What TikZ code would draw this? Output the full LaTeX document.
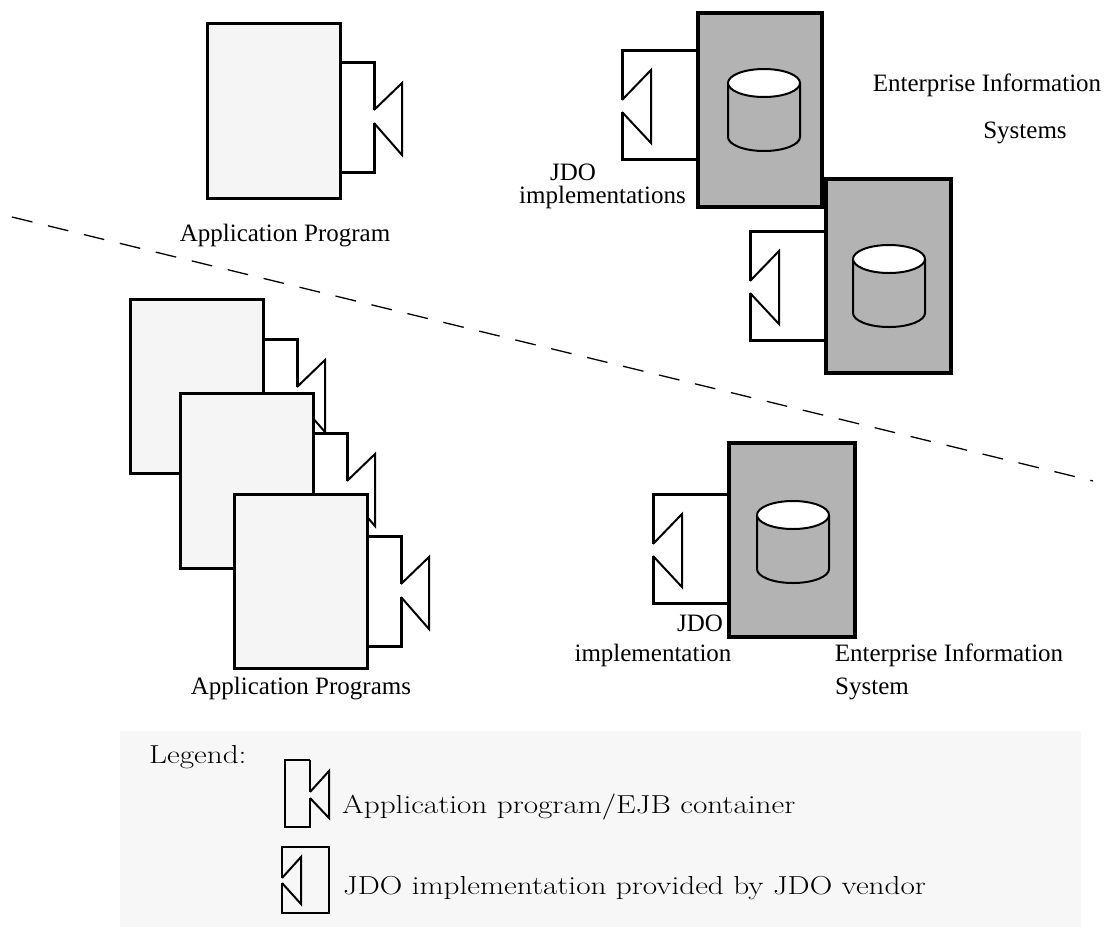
\documentclass[tikz,border=0pt]{standalone}
\usepackage{fontspec}
\setmainfont{Liberation Serif}
\newfontfamily\legendfont[FakeStretch=1.2]{Latin Modern Roman}

\definecolor{appfill}{HTML}{F5F5F5}
\definecolor{eisgray}{HTML}{B3B3B3}
\definecolor{legendfill}{HTML}{F7F7F7}

% container on the right side of a program box: #1 = x of box edge, #2 = top
\newcommand{\appside}[2]{%
  \fill[white] (#1,#2) -- (#1+34,#2) -- (#1+34,#2+48) -- (#1+62,#2+21) -- (#1+62,#2+93)
    -- (#1+34,#2+61) -- (#1+34,#2+110) -- (#1,#2+110) -- cycle;
  \draw[boxline] (#1,#2) -- (#1+34,#2) -- (#1+34,#2+48);
  \draw[boxline] (#1+34,#2+61) -- (#1+34,#2+110) -- (#1,#2+110);
  \draw[notch] (#1+34,#2+48) -- (#1+62,#2+21) -- (#1+62,#2+93) -- (#1+34,#2+61);
}
% JDO implementation on the left side of an EIS box: #1 = x of box edge, #2 = top
\newcommand{\jdoside}[2]{%
  \fill[white] (#1,#2) -- (#1-76,#2) -- (#1-76,#2+50) -- (#1-47,#2+20) -- (#1-47,#2+93)
    -- (#1-76,#2+62) -- (#1-76,#2+109) -- (#1,#2+109) -- cycle;
  \draw[boxline] (#1,#2) -- (#1-76,#2) -- (#1-76,#2+50);
  \draw[boxline] (#1-76,#2+62) -- (#1-76,#2+109) -- (#1,#2+109);
  \draw[notch] (#1-76,#2+50) -- (#1-47,#2+20) -- (#1-47,#2+93) -- (#1-76,#2+62);
}
% database drum: #1 = centre x, #2 = centre y of the top
\newcommand{\drum}[2]{%
  \draw[notch] (#1-36,#2) -- (#1-36,#2+54) arc[start angle=180,end angle=360,x radius=36pt,y radius=14pt] -- (#1+36,#2);
  \draw[notch,fill=white] (#1,#2) ellipse[x radius=36pt,y radius=14pt];
}

\begin{document}
\begin{tikzpicture}[x=1pt,y=-1pt,
  boxline/.style={line width=3pt,line join=miter},
  notch/.style={line width=2pt},
  prog/.style={draw,line width=3pt,fill=appfill},
  eis/.style={draw,line width=3.3pt,fill=eisgray},
  lbl/.style={font=\fontsize{25}{28}\selectfont,inner sep=0pt},
  leg/.style={font=\legendfont\fontsize{26}{30}\selectfont,inner sep=0pt,anchor=west}]
\useasboundingbox (0,0) rectangle (1104,927);

% Divider
\draw[line width=1.3pt,dash pattern=on 21pt off 16pt] (12,217) -- (1093,481);

% Single application program
\appside{340}{62}
\draw[prog] (207,23) rectangle (340,198);
\node[lbl] (appone) at (285,236) {Application Program};

% Enterprise information systems, top
\jdoside{698}{50}
\draw[eis] (698,13) rectangle (822,207);
\drum{764}{83}
\jdoside{826}{231}
\draw[eis] (826,179) rectangle (951,373);
\drum{889}{259}
\node[lbl] (jdotop) at (573,172) {JDO};
\node[lbl,anchor=east] (jdoimpls) at (686,197) {implementations};
\node[lbl] (eisname) at (987,85) {Enterprise Information};
\node[lbl] (eisplural) at (1025,133) {Systems};

% Several application programs
\appside{263}{339}
\draw[prog] (130,299) rectangle (263,473);
\appside{313}{433}
\draw[prog] (180,393) rectangle (313,568);
\appside{367}{536}
\draw[prog] (234,494) rectangle (367,668);
\node[lbl] (appmany) at (301,689) {Application Programs};

% Enterprise information system, bottom
\jdoside{729}{494}
\draw[eis] (729,443) rectangle (855,637);
\drum{793}{515}
\node[lbl] (jdoone) at (700,623) {JDO};
\node[lbl] (jdoonename) at (653,655) {implementation};
\node[lbl] (eisone) at (949,655) {Enterprise Information};
\node[lbl] (eisonename) at (872,689) {System};

% Legend
\fill[legendfill] (120,731) rectangle (1081,927);
\node[leg] (legtitle) at (149,757) {Legend:};
\draw[line width=2.5pt] (310,760) -- (285,760) -- (285,827) -- (310,827) -- (310,798);
\draw[line width=2.5pt] (310,760) -- (310,792);
\draw[notch] (310,792) -- (329,771) -- (329,818) -- (310,798);
\node[leg] (legapp) at (342,807) {Application program/EJB container};
\draw[line width=2.5pt] (282,878) -- (282,847) -- (329,847) -- (329,913) -- (282,913) -- (282,883);
\draw[notch] (282,878) -- (301,857) -- (301,904) -- (282,883);
\node[leg] (legjdo) at (343,888) {JDO implementation provided by JDO vendor};
\end{tikzpicture}
\end{document}
